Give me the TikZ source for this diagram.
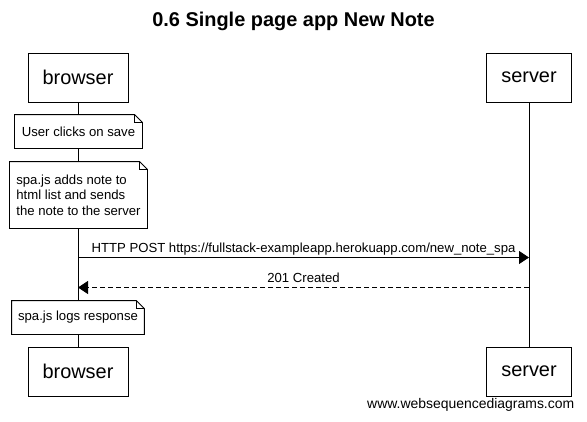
\documentclass[tikz,border=0pt]{standalone}
\usepackage{fontspec}
\setmainfont{Liberation Sans}
\usetikzlibrary{arrows.meta,calc,positioning}

\begin{document}
\begin{tikzpicture}[x=1bp, y=-1bp, line width=0.9bp,
    actor/.style={draw, fill=white, minimum height=49bp, inner sep=0pt, font=\fontsize{20}{24}\selectfont},
    notebox/.style={fill=white, inner xsep=6bp, inner ysep=0pt, font=\fontsize{13.2}{15.5}\selectfont},
    msglabel/.style={midway, above, inner sep=1.5bp, text depth=3bp, font=\fontsize{13.2}{15.5}\selectfont},
    msg/.style={-{Triangle[length=10bp,width=13bp]}},
    reply/.style={msg, dash pattern=on 5bp off 3bp}]
  \useasboundingbox (0,0) rectangle (587,421);

  \node[font=\fontsize{20}{24}\selectfont\bfseries] at (293.5,21) (title) {0.6 Single page app New Note};

  \node[actor, minimum width=100bp] at (78,77.5) (browserTop) {browser};
  \node[actor, minimum width=85bp] at (529,77.5) (serverTop) {server};
  \node[actor, minimum width=100bp] at (78,371.5) (browserBot) {browser};
  \node[actor, minimum width=85bp] at (529,371.5) (serverBot) {server};

  \draw (browserTop) -- (browserBot);
  \draw (serverTop) -- (serverBot);

  \node[notebox, minimum width=127bp, minimum height=33bp] at (78.5,131.5) (noteSave) {User clicks on save};
  \node[notebox, minimum width=137bp, minimum height=66bp, align=left] at (78.5,195) (noteAdd)
    {spa.js adds note to\\html list and sends\\the note to the server};
  \node[notebox, minimum width=130bp, minimum height=33bp] at (78,317.5) (noteLog) {spa.js logs response};

  % notes with folded corner
  \foreach \n in {noteSave,noteAdd,noteLog}{
    \draw (\n.north west) -- ($(\n.north east)+(-8,0)$) -- ($(\n.north east)+(0,8)$)
      -- (\n.south east) -- (\n.south west) -- cycle;
    \draw ($(\n.north east)+(-8,0)$) |- ($(\n.north east)+(0,8)$);
  }

  \coordinate (postB) at (browserTop |- 0,257.5);
  \coordinate (postS) at (serverTop |- 0,257.5);
  \coordinate (ackB) at (browserTop |- 0,287.5);
  \coordinate (ackS) at (serverTop |- 0,287.5);

  \draw[msg] (postB) -- (postS) node[msglabel] {HTTP POST https://fullstack-exampleapp.herokuapp.com/new\_note\_spa};
  \draw[reply] (ackS) -- (ackB) node[msglabel] {201 Created};

  \node[anchor=base east, font=\fontsize{14}{17}\selectfont] at (578,408) (footer) {www.websequencediagrams.com};
\end{tikzpicture}
\end{document}
